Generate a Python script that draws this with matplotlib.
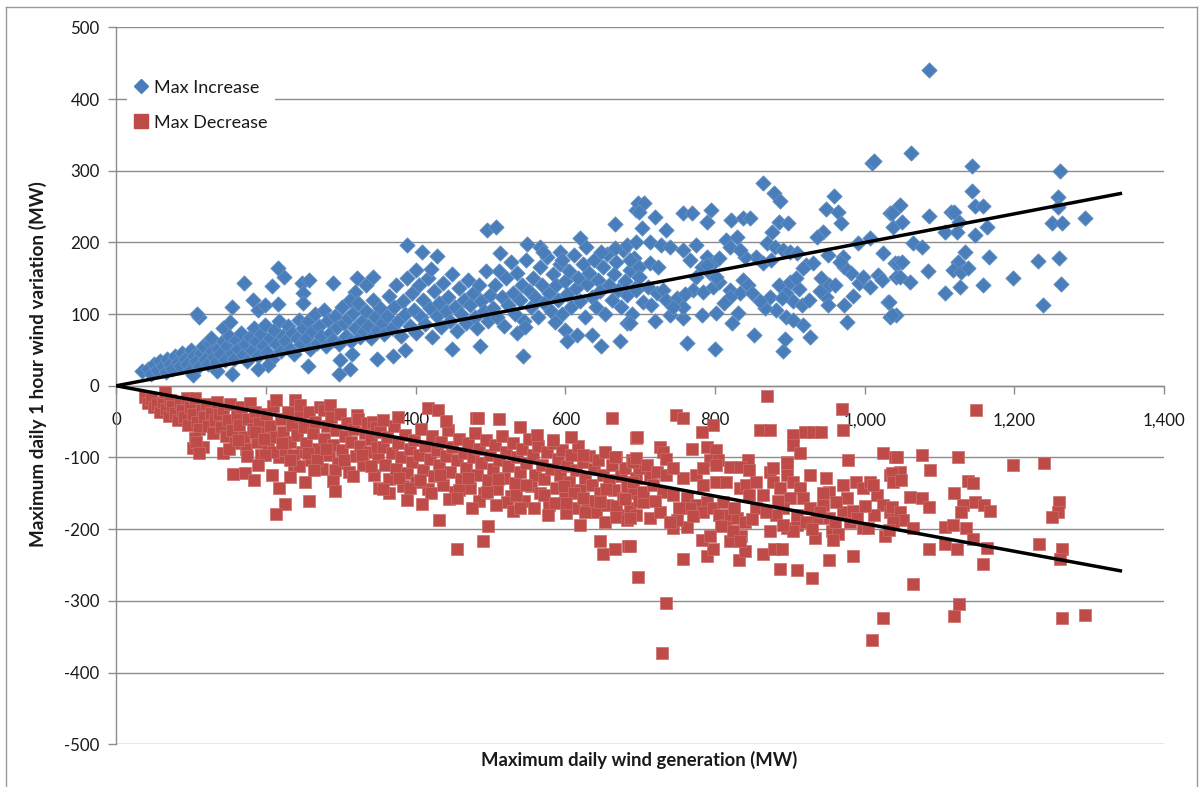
import numpy as np
import matplotlib
matplotlib.use("Agg")
import matplotlib.pyplot as plt
from matplotlib.ticker import FuncFormatter
from matplotlib.lines import Line2D

# Daily maximum 1-hour ramp up (MW) against daily maximum wind generation (MW)
increase_points = [
    # low output
    (35, 20), (42, 24), (46, 17), (50, 30), (55, 22), (58, 34), (62, 27), (66, 19), (68, 38), (72, 30),
    (75, 24), (78, 42), (82, 33), (85, 27), (88, 46), (92, 37), (95, 30), (98, 22), (100, 50), (104, 41),
    (107, 34), (110, 27), (113, 46), (116, 55), (119, 38), (122, 30), (125, 60), (128, 48), (130, 40),
    (111, 96), (108, 100), (103, 15), (134, 20), (127, 66), (143, 80), (152, 89), (154, 110), (154, 17),
    (133, 33), (136, 52), (139, 44), (142, 62), (145, 36), (148, 56), (151, 70), (154, 46), (157, 38),
    (160, 64), (163, 52), (166, 74), (169, 43), (172, 58), (175, 35), (178, 68), (181, 50), (184, 80),
    (187, 62), (190, 42), (193, 72), (196, 55), (199, 85), (202, 47), (205, 66), (208, 38), (211, 78),
    (214, 58), (217, 90), (220, 48), (223, 70), (226, 62), (229, 84), (232, 52), (235, 74), (238, 44),
    (241, 66), (244, 92), (247, 58), (250, 80),
    (170, 144), (182, 119), (190, 106), (199, 113), (203, 29), (190, 24), (208, 139), (216, 164),
    (224, 152), (216, 114), (248, 144), (258, 147), (250, 129), (249, 115), (256, 27),
    (253, 66), (256, 90), (259, 52), (262, 76), (265, 100), (268, 60), (271, 84), (274, 70), (277, 106),
    (280, 56), (283, 92), (286, 74), (289, 64), (292, 98), (295, 82), (298, 58), (301, 110), (304, 88),
    (307, 70), (310, 94), (313, 62), (316, 102), (319, 80), (322, 114), (325, 68), (328, 90), (331, 76),
    (334, 104), (337, 84), (340, 66), (343, 120), (346, 96), (349, 78), (352, 108), (355, 88), (358, 72),
    (289, 144), (297, 17), (299, 36), (312, 24), (315, 45), (321, 150), (334, 141), (343, 152),
    (319, 131), (312, 120), (323, 115), (348, 38), (370, 41),
    # mid output
    (362, 98), (365, 125), (368, 80), (371, 110), (374, 140), (377, 90), (380, 70), (383, 118), (386, 100),
    (389, 150), (392, 84), (395, 130), (398, 106), (401, 74), (404, 140), (407, 96), (410, 120), (413, 86),
    (416, 150), (419, 108), (422, 68), (425, 132), (428, 98), (431, 116), (434, 82), (437, 144), (440, 104),
    (443, 124), (446, 90), (449, 156), (452, 110), (455, 76), (458, 136), (461, 100), (464, 120), (467, 88),
    (470, 148), (473, 112), (476, 130), (479, 96), (482, 80), (485, 140), (488, 118), (491, 104), (494, 160),
    (497, 90), (500, 126),
    (388, 196), (408, 186), (428, 181), (401, 161), (421, 163), (386, 50), (449, 52), (486, 55),
    (495, 217), (508, 222), (513, 185),
    (503, 108), (506, 140), (509, 96), (512, 160), (515, 124), (518, 84), (521, 150), (524, 112), (527, 172),
    (530, 130), (533, 100), (536, 158), (539, 120), (542, 140), (545, 90), (548, 176), (551, 132), (554, 110),
    (557, 150), (560, 124), (563, 96), (566, 166), (569, 140), (572, 116), (575, 180), (578, 130), (581, 104),
    (584, 156), (587, 140), (590, 120), (593, 170), (596, 100), (599, 146), (602, 128), (605, 160), (608, 110),
    (611, 182), (614, 136), (617, 150), (620, 118), (623, 170), (626, 96), (629, 142), (632, 158), (635, 124),
    (638, 176), (641, 110), (644, 148), (647, 132), (650, 166), (653, 100), (656, 184), (659, 140), (662, 120),
    (665, 156), (668, 172), (671, 134), (674, 110), (677, 190), (680, 146), (683, 126), (686, 162), (689, 100),
    (692, 178), (695, 138), (698, 152),
    (544, 42), (535, 73), (546, 82), (586, 89), (600, 78), (602, 62), (615, 71), (635, 71), (648, 55),
    (673, 63), (682, 87), (549, 198), (566, 193), (570, 187), (593, 187), (595, 176), (619, 206), (627, 193),
    (666, 226), (648, 187), (666, 192), (682, 196), (695, 201), (695, 245), (697, 255), (686, 87),
    # high output
    (705, 255), (699, 243), (720, 236), (703, 220), (735, 217), (757, 241), (769, 241), (795, 245), (789, 229),
    (822, 231), (837, 234), (847, 234), (886, 229), (898, 227), (876, 215), (944, 215), (936, 208),
    (1034, 241), (1038, 222), (1045, 250), (864, 283), (879, 269), (887, 258), (959, 265), (949, 246),
    (964, 243), (968, 227), (1010, 311), (1013, 314),
    (762, 60), (800, 52), (852, 71), (891, 49), (893, 65), (918, 85), (927, 68), (976, 89), (1034, 96),
    (1042, 99), (1031, 117), (720, 91), (740, 99), (757, 94), (782, 99), (801, 101), (823, 88), (831, 101),
    (873, 124), (882, 106), (895, 96), (904, 92), (867, 108), (993, 143), (1007, 138), (1018, 155),
    (1023, 147), (998, 152), (1025, 185), (1040, 171), (1042, 152), (991, 199), (1007, 206), (951, 182),
    (971, 180), (982, 157), (973, 166), (967, 173), (942, 150), (953, 141), (949, 124), (951, 113),
    (973, 113), (922, 168), (931, 171), (918, 164), (869, 199), (880, 194), (891, 189), (900, 187),
    (909, 185), (855, 180), (864, 171), (875, 175), (713, 201), (728, 196), (740, 194), (757, 189),
    (766, 175), (775, 196), (789, 180), (782, 166), (798, 171), (806, 178), (815, 203), (820, 194),
    (829, 208), (840, 180), (833, 189), (686, 175), (699, 166), (713, 171), (724, 166), (699, 152),
    (695, 134), (711, 138), (722, 129), (731, 134), (704, 117), (715, 113), (735, 120), (749, 122),
    (757, 110), (744, 110), (771, 134), (784, 131), (798, 138), (806, 145), (820, 134), (838, 148),
    (844, 141), (833, 129), (820, 124), (793, 157), (802, 152), (775, 152), (789, 168),
    (886, 140), (895, 130), (904, 118), (912, 135), (900, 145), (890, 122), (916, 112), (908, 150),
    (760, 128), (812, 115), (850, 130), (860, 118), (926, 120), (940, 132), (960, 140), (985, 125),
    # very high output
    (1086, 441), (1062, 325), (1144, 306), (1261, 300), (1144, 271), (1258, 263), (1148, 251), (1158, 251),
    (1258, 250), (1047, 252), (1036, 241), (1050, 229), (1086, 237), (1116, 243), (1120, 243), (1126, 229),
    (1107, 215), (1123, 214), (1147, 210), (1164, 221), (1250, 227), (1264, 227), (1294, 234), (1064, 199),
    (1076, 194), (1134, 187), (1166, 180), (1125, 173), (1118, 162), (1129, 159), (1138, 164), (1231, 174),
    (1260, 178), (1045, 171), (1050, 172), (1085, 160), (1047, 152), (1061, 145), (1198, 150), (1263, 142),
    (1158, 141), (1128, 138), (1107, 130), (1033, 117), (1238, 113), (1036, 99),
]

# Daily maximum 1-hour ramp down (MW) against daily maximum wind generation (MW)
decrease_points = [
    (38, -16), (42, -24), (46, -19), (50, -30), (54, -26), (58, -36), (62, -22), (65, -8), (66, -33),
    (70, -42), (72, -20), (74, -28), (78, -38), (82, -48), (85, -24), (88, -34), (91, -44), (94, -17),
    (96, -54), (99, -30), (102, -40), (105, -17), (108, -50), (111, -60), (114, -34), (117, -44), (120, -26),
    (123, -56), (126, -38), (129, -66), (132, -48),
    (103, -87), (116, -85), (105, -73), (107, -78), (110, -94), (143, -94), (156, -123), (172, -122),
    (184, -132),
    (134, -22), (137, -40), (140, -58), (143, -32), (146, -70), (149, -48), (152, -26), (155, -62),
    (158, -80), (161, -42), (164, -54), (167, -30), (170, -72), (173, -88), (176, -46), (179, -24),
    (182, -60), (185, -36), (188, -78), (191, -52), (194, -96), (197, -66), (200, -40), (203, -84),
    (206, -56), (209, -28), (212, -72), (214, -20), (217, -100), (220, -46), (223, -64), (226, -90),
    (229, -36), (232, -78), (235, -54), (238, -110), (239, -20), (242, -68), (245, -42), (246, -27),
    (248, -92), (251, -58), (254, -80), (257, -36), (260, -104), (263, -66), (266, -50), (269, -88),
    (272, -30), (275, -116), (277, -34), (278, -74), (281, -56), (284, -96), (286, -27), (287, -44),
    (290, -82), (293, -62), (296, -108), (299, -40), (302, -90), (305, -70), (308, -52), (311, -120),
    (314, -78), (317, -60), (320, -98), (321, -41), (323, -46), (326, -84), (329, -110), (332, -66),
    (335, -52), (338, -92), (341, -74), (343, -50), (344, -124), (347, -58), (350, -100),
    (150, -88), (162, -76), (175, -98), (186, -64), (198, -74), (210, -92), (222, -80), (236, -96),
    (244, -112), (256, -94), (268, -104), (280, -88), (292, -118), (304, -104), (316, -126), (328, -96),
    (340, -112), (348, -86),
    (199, -97), (190, -110), (208, -124), (218, -143), (225, -165), (213, -179), (232, -103),
    (232, -127), (252, -134), (258, -161), (264, -117), (289, -133), (292, -147), (351, -143),
    (353, -64), (356, -86), (359, -110), (362, -72), (365, -130), (368, -94), (371, -56), (374, -116),
    (377, -80), (380, -100), (383, -140), (386, -68), (389, -122), (392, -88), (395, -106), (398, -76),
    (401, -134), (404, -96), (407, -60), (410, -118), (413, -84), (416, -144), (419, -102), (422, -70),
    (425, -126), (428, -90), (431, -110), (434, -78), (437, -138), (440, -98), (443, -62), (446, -120),
    (449, -86), (452, -148), (455, -104), (458, -74), (461, -130), (464, -94), (467, -114), (470, -80),
    (473, -142), (476, -100), (479, -66), (482, -124), (485, -88), (488, -108), (491, -150), (494, -76),
    (497, -132), (500, -96), (503, -116), (506, -82), (509, -144), (512, -104), (515, -70), (518, -128),
    (521, -92), (524, -112), (527, -154), (530, -80), (533, -136), (536, -100), (539, -120), (542, -88),
    (545, -160), (548, -108), (551, -74), (554, -140), (557, -96), (560, -124), (563, -84), (566, -150),
    (569, -110), (572, -130), (575, -92), (578, -166), (581, -116), (584, -80), (587, -142), (590, -102),
    (593, -124), (596, -90), (599, -156), (602, -112), (605, -134), (608, -96), (611, -170), (614, -118),
    (617, -84), (620, -146), (623, -106), (626, -128), (629, -160), (632, -98), (635, -138), (638, -116),
    (641, -176), (644, -104), (647, -150), (650, -124), (653, -92), (656, -166), (659, -132), (662, -110),
    (665, -146), (668, -100), (671, -180), (674, -126), (677, -156), (680, -114), (683, -140), (686, -170),
    (689, -104), (692, -150), (695, -128), (698, -160),
    (364, -150), (378, -128), (392, -142), (406, -132), (420, -150), (432, -124), (444, -158), (458, -146),
    (470, -128), (484, -160), (496, -148), (510, -130), (522, -162), (534, -152), (548, -138), (558, -170),
    (572, -152), (586, -164), (598, -140), (612, -150), (626, -176), (640, -160), (654, -144), (668, -168),
    (680, -158), (694, -180),
    (417, -31), (430, -34), (440, -49), (512, -46), (539, -58), (662, -45), (695, -73), (357, -48),
    (377, -43), (481, -45), (483, -45), (562, -69), (584, -76), (608, -71), (624, -97), (666, -99),
    (357, -144), (388, -159), (409, -165), (431, -187), (455, -157), (475, -170), (508, -166), (497, -196),
    (490, -216), (455, -228), (530, -175), (539, -171), (577, -180), (601, -178), (619, -194), (646, -217),
    (651, -234), (666, -228), (684, -223), (653, -190), (668, -183), (682, -187), (601, -164), (624, -157),
    (646, -162),
    (869, -14), (970, -32), (971, -62), (748, -41), (757, -45), (797, -54), (783, -64), (860, -62),
    (874, -61), (904, -69), (920, -64), (931, -64), (942, -64), (696, -72), (726, -85), (731, -92),
    (734, -102), (769, -88), (789, -86), (802, -90), (793, -103), (804, -103), (844, -103), (820, -113),
    (833, -113), (904, -83), (913, -94), (896, -106), (978, -103), (1025, -94), (1040, -99),
    (697, -266), (735, -303), (729, -373), (1010, -355), (1024, -324), (929, -268), (909, -257),
    (887, -256), (952, -243), (985, -238), (757, -241), (789, -238), (797, -227), (832, -243), (840, -230),
    (864, -235), (879, -227), (890, -228), (686, -224), (782, -215), (793, -210), (820, -217), (835, -210),
    (933, -212), (956, -203), (964, -206), (873, -203), (896, -199), (909, -194), (998, -199), (1004, -199),
    (1027, -210), (744, -199), (762, -197), (749, -187),
    (686, -185), (704, -162), (713, -185), (726, -176), (740, -190), (691, -134), (704, -148),
    (713, -124), (699, -115), (691, -106), (717, -138), (731, -148), (744, -152), (757, -129), (762, -157),
    (775, -166), (766, -171), (789, -162), (784, -176), (798, -171), (806, -180), (811, -162), (815, -194),
    (824, -203), (833, -217), (820, -180), (829, -185), (840, -190), (775, -124), (784, -138), (802, -134),
    (815, -134), (833, -143), (842, -138), (855, -134), (846, -152), (864, -152), (855, -171), (873, -120),
    (878, -134), (887, -143), (896, -124), (904, -134), (913, -143), (918, -157), (900, -157), (891, -171),
    (882, -180), (909, -180), (904, -203), (891, -194), (927, -124), (949, -129), (953, -148), (971, -138),
    (976, -157), (989, -134), (998, -143), (1007, -134), (1016, -152), (1025, -166), (1034, -176),
    (1042, -185), (971, -176), (980, -190), (953, -185), (936, -185), (927, -171), (944, -166), (962, -162),
    (695, -101), (709, -110), (722, -120), (735, -124), (744, -115), (784, -115), (802, -110), (846, -117),
    (878, -115), (896, -108), (1011, -138), (1034, -124), (1047, -120),
    (720, -160), (752, -170), (770, -182), (808, -196), (826, -170), (850, -186), (868, -176), (884, -160),
    (922, -190), (940, -176), (960, -190), (985, -175),
    (930, -200), (958, -215), (990, -185), (1012, -180), (945, -150), (1000, -168),
    (1149, -34), (1043, -100), (1076, -97), (1125, -99), (1198, -110), (1240, -108), (1087, -117),
    (1036, -122), (1038, -134), (1049, -131), (1138, -133), (1145, -136), (1120, -149), (1061, -155),
    (1077, -157), (1086, -169), (1131, -166), (1147, -162), (1160, -166), (1167, -174), (1129, -176),
    (1260, -162), (1258, -176), (1250, -183), (1036, -169), (1047, -176), (1051, -187), (1038, -190),
    (1033, -201), (1064, -199), (1107, -197), (1118, -194), (1135, -199), (1145, -214), (1108, -220),
    (1123, -227), (1164, -226), (1086, -228), (1158, -248), (1233, -220), (1264, -228), (1261, -242),
    (1064, -276), (1126, -304), (1120, -321), (1264, -324), (1294, -319),
]

x_ticks = [0, 200, 400, 600, 800, 1000, 1200, 1400]
y_ticks = [-500, -400, -300, -200, -100, 0, 100, 200, 300, 400, 500]
series_names = ["Max Increase", "Max Decrease"]
x_title = "Maximum daily wind generation (MW)"
y_title = "Maximum daily 1 hour wind variation (MW)"

BLUE = "#4A7EBB"
RED = "#BE4B48"
GRID = "#8C8C8C"
TEXT = "#1A1A1A"

plt.rcParams["font.family"] = ["Lato", "DejaVu Sans"]

inc_x, inc_y = np.array(increase_points, dtype=float).T
dec_x, dec_y = np.array(decrease_points, dtype=float).T

fig = plt.figure(figsize=(12.03, 7.87), dpi=100)
ax = fig.add_axes([116.3 / 1203, 1 - 744.3 / 787, (1164 - 116.3) / 1203, (744.3 - 27.3) / 787])

ax.scatter(inc_x, inc_y, marker="D", s=62, color=BLUE, edgecolors="#6A95C8",
           linewidths=0.5, zorder=3, label=series_names[0])
ax.scatter(dec_x, dec_y, marker="s", s=70, color=RED, edgecolors="#CB6D6A",
           linewidths=0.5, zorder=3, label=series_names[1])

# Linear trendlines forced through the origin, projected 50 MW past the last point
forecast = 50
for xs, ys in ((inc_x, inc_y), (dec_x, dec_y)):
    slope = np.sum(xs * ys) / np.sum(xs * xs)
    xe = np.array([0.0, xs.max() + forecast])
    ax.plot(xe, slope * xe, color="black", lw=2.5, zorder=4, solid_capstyle="butt")

ax.set_xlim(0, 1400)
ax.set_ylim(-500, 500)
ax.set_xticks(x_ticks)
ax.set_yticks(y_ticks)
ax.xaxis.set_major_formatter(FuncFormatter(lambda v, p: f"{int(v):,}"))
ax.yaxis.set_major_formatter(FuncFormatter(lambda v, p: f"{int(v)}"))

ax.grid(axis="y", color=GRID, lw=1.0, zorder=0)
ax.set_axisbelow(True)
for side in ("top", "right"):
    ax.spines[side].set_visible(False)
ax.spines["bottom"].set_position(("data", 0))
ax.spines["bottom"].set_color(GRID)
ax.spines["left"].set_color(GRID)
ax.spines["bottom"].set_linewidth(1.0)
ax.spines["left"].set_linewidth(1.0)
ax.tick_params(axis="both", direction="out", length=6, width=1.0, color=GRID,
               labelsize=12.2, labelcolor=TEXT)
ax.tick_params(axis="x", pad=13)
ax.tick_params(axis="y", pad=6)

fig.text(639 / 1203, 1 - 760 / 787, x_title, ha="center", va="center",
         fontsize=13.3, fontweight="bold", color=TEXT)
fig.text(38 / 1203, 1 - 364 / 787, y_title, ha="center", va="center", rotation=90,
         fontsize=13.6, fontweight="bold", color=TEXT)

handles = [
    Line2D([], [], marker="D", ls="none", color=BLUE, markersize=7.5),
    Line2D([], [], marker="s", ls="none", color=RED, markersize=10),
]
leg = ax.legend(handles, series_names, loc="upper left", bbox_to_anchor=(0.0102, 0.937),
                frameon=True, fontsize=13, handlelength=0.8, handletextpad=0.3,
                labelspacing=1.05, borderpad=0.4, borderaxespad=0)
leg.get_frame().set_facecolor("white")
leg.get_frame().set_edgecolor("none")
leg.get_frame().set_alpha(1.0)
for t in leg.get_texts():
    t.set_color(TEXT)

# Outer chart frame
fw, fh = 1203, 787
for (x0, y0, x1, y1) in [(6, 7, 6, 790), (6, 7, 1197, 7), (1197, 7, 1197, 790)]:
    fig.add_artist(Line2D([x0 / fw, x1 / fw], [1 - y0 / fh, 1 - y1 / fh], color="#9A9A9A", lw=1.0))

fig.savefig("out.png", dpi=100)
